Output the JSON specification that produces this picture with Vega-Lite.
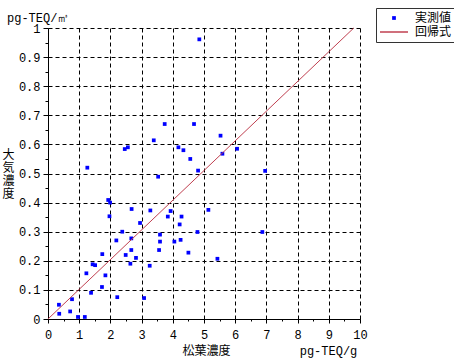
{
  "$schema": "https://vega.github.io/schema/vega-lite/v6.json",
  "width": 312,
  "height": 291,
  "autosize": {"type": "none"},
  "padding": {"left": 48, "top": 28, "right": 94, "bottom": 44},
  "background": "white",
  "title": {"text": "pg-TEQ/㎥", "anchor": "start", "frame": "group", "dx": -41, "dy": 21, "offset": 4, "font": "Liberation Mono", "fontSize": 12, "fontWeight": "normal", "color": "#000"},
  "config": {
    "view": {"stroke": null},
    "axis": {
      "domainColor": "#000", "tickColor": "#000", "gridColor": "#000", "gridDash": [4, 3],
      "labelColor": "#000", "labelFont": "Liberation Mono", "labelFontSize": 12,
      "titleFont": "Noto Sans CJK JP", "titleFontSize": 12, "titleFontWeight": "normal", "titleColor": "#000",
      "labelFlush": false, "labelOverlap": false, "labelBound": false
    }
  },
  "datasets": {
    "obs": [
      {"x": 0.35, "y": 0.049, "type": "実測値"},
      {"x": 0.36, "y": 0.018, "type": "実測値"},
      {"x": 0.71, "y": 0.026, "type": "実測値"},
      {"x": 0.77, "y": 0.068, "type": "実測値"},
      {"x": 0.96, "y": 0.007, "type": "実測値"},
      {"x": 1.18, "y": 0.007, "type": "実測値"},
      {"x": 1.38, "y": 0.09, "type": "実測値"},
      {"x": 1.73, "y": 0.11, "type": "実測値"},
      {"x": 1.23, "y": 0.157, "type": "実測値"},
      {"x": 1.84, "y": 0.15, "type": "実測値"},
      {"x": 1.43, "y": 0.188, "type": "実測値"},
      {"x": 1.51, "y": 0.185, "type": "実測値"},
      {"x": 1.74, "y": 0.223, "type": "実測値"},
      {"x": 2.22, "y": 0.075, "type": "実測値"},
      {"x": 3.08, "y": 0.072, "type": "実測値"},
      {"x": 2.19, "y": 0.27, "type": "実測値"},
      {"x": 2.38, "y": 0.3, "type": "実測値"},
      {"x": 2.67, "y": 0.277, "type": "実測値"},
      {"x": 2.49, "y": 0.22, "type": "実測値"},
      {"x": 2.67, "y": 0.237, "type": "実測値"},
      {"x": 2.82, "y": 0.21, "type": "実測値"},
      {"x": 2.64, "y": 0.19, "type": "実測値"},
      {"x": 3.26, "y": 0.183, "type": "実測値"},
      {"x": 2.95, "y": 0.33, "type": "実測値"},
      {"x": 2.68, "y": 0.378, "type": "実測値"},
      {"x": 1.97, "y": 0.353, "type": "実測値"},
      {"x": 1.93, "y": 0.409, "type": "実測値"},
      {"x": 1.99, "y": 0.4, "type": "実測値"},
      {"x": 3.28, "y": 0.373, "type": "実測値"},
      {"x": 3.93, "y": 0.371, "type": "実測値"},
      {"x": 3.84, "y": 0.352, "type": "実測値"},
      {"x": 4.28, "y": 0.352, "type": "実測値"},
      {"x": 4.22, "y": 0.325, "type": "実測値"},
      {"x": 3.59, "y": 0.29, "type": "実測値"},
      {"x": 4.05, "y": 0.266, "type": "実測値"},
      {"x": 4.25, "y": 0.272, "type": "実測値"},
      {"x": 3.59, "y": 0.266, "type": "実測値"},
      {"x": 3.56, "y": 0.237, "type": "実測値"},
      {"x": 4.5, "y": 0.228, "type": "実測値"},
      {"x": 4.79, "y": 0.299, "type": "実測値"},
      {"x": 5.43, "y": 0.207, "type": "実測値"},
      {"x": 3.39, "y": 0.614, "type": "実測値"},
      {"x": 2.56, "y": 0.59, "type": "実測値"},
      {"x": 2.46, "y": 0.584, "type": "実測値"},
      {"x": 1.26, "y": 0.52, "type": "実測値"},
      {"x": 3.53, "y": 0.489, "type": "実測値"},
      {"x": 3.74, "y": 0.67, "type": "実測値"},
      {"x": 4.68, "y": 0.67, "type": "実測値"},
      {"x": 4.18, "y": 0.59, "type": "実測値"},
      {"x": 4.34, "y": 0.58, "type": "実測値"},
      {"x": 4.56, "y": 0.55, "type": "実測値"},
      {"x": 4.81, "y": 0.51, "type": "実測値"},
      {"x": 5.53, "y": 0.63, "type": "実測値"},
      {"x": 5.59, "y": 0.568, "type": "実測値"},
      {"x": 6.06, "y": 0.585, "type": "実測値"},
      {"x": 6.96, "y": 0.509, "type": "実測値"},
      {"x": 5.14, "y": 0.375, "type": "実測値"},
      {"x": 6.87, "y": 0.299, "type": "実測値"},
      {"x": 4.85, "y": 0.961, "type": "実測値"}
    ],
    "reg": [
      {"x": 0, "y": 0, "type": "回帰式"},
      {"x": 9.8, "y": 1, "type": "回帰式"}
    ]
  },
  "encoding": {
    "y": {
      "field": "y", "type": "quantitative",
      "scale": {"domain": [0, 1], "nice": false, "zero": false},
      "axis": {
        "values": [0, 0.05, 0.1, 0.15, 0.2, 0.25, 0.3, 0.35, 0.4, 0.45, 0.5, 0.55, 0.6, 0.65, 0.7, 0.75, 0.8, 0.85, 0.9, 0.95, 1],
        "labelExpr": "round(datum.value*20)%2===0 ? format(datum.value, '~g') : ''",
        "labelOverlap": false,
        "gridOpacity": {"condition": {"test": "round(datum.value*20)%2===0", "value": 1}, "value": 0},
        "tickSize": {"condition": {"test": "round(datum.value*20)%2===0", "value": 5}, "value": 3},
        "labelPadding": 3,
        "title": ["大", "気", "濃", "度"],
        "titleAngle": 0, "titleX": -40, "titleY": 121, "titleAlign": "center", "titleBaseline": "top", "titleLineHeight": 13
      }
    }
  },
  "layer": [
    {
      "data": {"name": "obs"},
      "mark": {"type": "point", "size": 14, "opacity": 1, "filled": true},
      "encoding": {
        "x": {
          "field": "x", "type": "quantitative",
          "scale": {"domain": [0, 10], "nice": false, "zero": false},
          "axis": {
            "values": [0, 0.5, 1, 1.5, 2, 2.5, 3, 3.5, 4, 4.5, 5, 5.5, 6, 6.5, 7, 7.5, 8, 8.5, 9, 9.5, 10],
            "labelExpr": "round(datum.value*2)%2===0 ? format(datum.value, '~g') : ''",
            "labelOverlap": false, "labelFlush": false,
            "gridOpacity": {"condition": {"test": "round(datum.value*2)%2===0", "value": 1}, "value": 0},
            "tickSize": {"condition": {"test": "round(datum.value*2)%2===0", "value": 4}, "value": 2},
            "labelPadding": 6,
            "title": "松葉濃度",
            "titleX": 158, "titleY": 31, "titleBaseline": "middle", "titleAlign": "center"
          }
        },
        "color": {
          "field": "type", "type": "nominal",
          "scale": {"domain": ["実測値", "回帰式"], "range": ["#0000ff", "#c04050"]},
          "legend": {
            "title": null, "orient": "none", "legendX": 328, "legendY": -20, "direction": "vertical",
            "strokeColor": "#333", "fillColor": "#fff", "padding": 4, "symbolOffset": 8, "labelOffset": 15,
            "rowPadding": 2, "symbolSize": 14, "labelFont": "Noto Sans CJK JP", "labelFontSize": 12, "labelColor": "#000"
          }
        },
        "shape": {
          "field": "type", "type": "nominal",
          "scale": {"domain": ["実測値", "回帰式"], "range": ["square", "M-7.5,-0.4H7.5V0.4H-7.5Z"]},
          "legend": {
            "title": null, "orient": "none", "legendX": 328, "legendY": -20, "direction": "vertical",
            "strokeColor": "#333", "fillColor": "#fff", "padding": 4, "symbolOffset": 8, "labelOffset": 15,
            "rowPadding": 2, "symbolSize": 14, "labelFont": "Noto Sans CJK JP", "labelFontSize": 12, "labelColor": "#000"
          }
        }
      }
    },
    {
      "data": {"name": "reg"},
      "mark": {"type": "line", "strokeWidth": 1, "color": "#c04050"},
      "encoding": {
        "x": {
          "field": "x", "type": "quantitative",
          "scale": {"domain": [0, 10], "nice": false, "zero": false},
          "axis": {
            "orient": "bottom", "labels": false, "ticks": false, "domain": false, "grid": false,
            "title": "pg-TEQ/g", "titleFont": "Liberation Mono", "titleFontSize": 12,
            "titleX": 280, "titleY": 31, "titleBaseline": "middle", "titleAlign": "center"
          }
        }
      }
    }
  ],
  "resolve": {"scale": {"x": "independent"}}
}
